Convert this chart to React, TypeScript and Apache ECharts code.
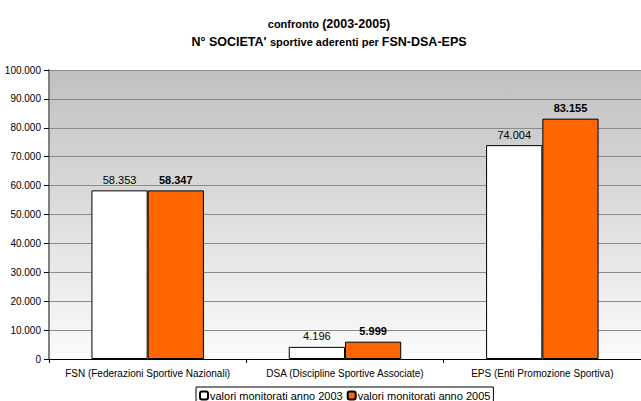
import React, { useEffect, useRef } from "react";
import * as echarts from "echarts";

const categories = [
  "FSN (Federazioni Sportive Nazionali)",
  "DSA (Discipline Sportive Associate)",
  "EPS (Enti Promozione Sportiva)",
];
const values2003 = [58353, 4196, 74004];
const values2005 = [58347, 5999, 83155];
const seriesNames = ["valori monitorati anno 2003", "valori monitorati anno 2005"];

const fmt = (v: number) => {
  const s = String(Math.round(v));
  return s.replace(/\B(?=(\d{3})+(?!\d))/g, ".");
};

export default function App() {
  const ref = useRef<HTMLDivElement>(null);
  useEffect(() => {
    document.body.style.margin = "0";
    const chart = echarts.init(ref.current!, null, { renderer: "svg" });
    const font = "'Liberation Sans', Arial, sans-serif";
    chart.setOption({
      animation: false,
      textStyle: { fontFamily: font },
      title: {
        left: 324,
        top: 10,
        textAlign: "center",
        text: "{s|confronto }{b|(2003-2005)}\n{b|N° SOCIETA' }{s|sportive aderenti per }{b|FSN-DSA-EPS}",
        textStyle: {
          rich: {
            s: { fontSize: 11, fontWeight: "bold", color: "#000", fontFamily: font, lineHeight: 18 },
            b: { fontSize: 12.5, fontWeight: "bold", color: "#000", fontFamily: font, lineHeight: 18 },
          },
        },
      },
      legend: {
        bottom: -3,
        left: 196,
        itemWidth: 8,
        itemHeight: 8,
        itemGap: 4,
        padding: [3, 3, 3, 3],
        borderColor: "#000",
        borderWidth: 1,
        backgroundColor: "#fff",
        textStyle: { fontSize: 11, color: "#000", fontFamily: font, padding: [0, 0, 0, -3] },
        data: seriesNames,
      },
      grid: {
        left: 49,
        top: 70,
        right: -7,
        bottom: 42,
        show: true,
        borderWidth: 0,
        backgroundColor: new echarts.graphic.LinearGradient(0, 0, 0, 1, [
          { offset: 0, color: "#c0c0c0" },
          { offset: 1, color: "#fbfbfb" },
        ]),
      },
      xAxis: {
        type: "category",
        data: categories,
        axisLine: { lineStyle: { color: "#000", width: 1 } },
        axisTick: { show: true, length: 4, lineStyle: { color: "#000" } },
        axisLabel: { interval: 0, fontSize: 10, color: "#000", margin: 9, fontFamily: font },
      },
      yAxis: {
        type: "value",
        min: 0,
        max: 100000,
        interval: 10000,
        axisLine: { show: true, lineStyle: { color: "#808080", width: 2 } },
        axisTick: { show: true, length: 5, lineStyle: { color: "#000" } },
        axisLabel: { fontSize: 10, color: "#000", margin: 8, fontFamily: font, formatter: (v: number) => fmt(v) },
        splitLine: { show: true, lineStyle: { color: "#8c8c8c", width: 1 } },
      },
      series: [
        {
          name: seriesNames[0],
          type: "bar",
          data: values2003,
          barGap: "0%",
          barCategoryGap: "43%",
          itemStyle: { color: "#ffffff", borderColor: "#000", borderWidth: 1 },
          labelLayout: { hideOverlap: false },
          label: {
            show: true,
            position: "top",
            fontSize: 11,
            color: "#000",
            fontFamily: font,
            formatter: (p: any) => fmt(p.value),
          },
        },
        {
          name: seriesNames[1],
          type: "bar",
          data: values2005,
          itemStyle: { color: "#ff6600", borderColor: "#000", borderWidth: 1 },
          labelLayout: { hideOverlap: false },
          label: {
            show: true,
            position: "top",
            fontSize: 11,
            fontWeight: "bold",
            color: "#000",
            fontFamily: font,
            formatter: (p: any) => fmt(p.value),
          },
        },
      ],
    });
    return () => chart.dispose();
  }, []);
  return <div ref={ref} style={{ width: 641, height: 401 }} />;
}
